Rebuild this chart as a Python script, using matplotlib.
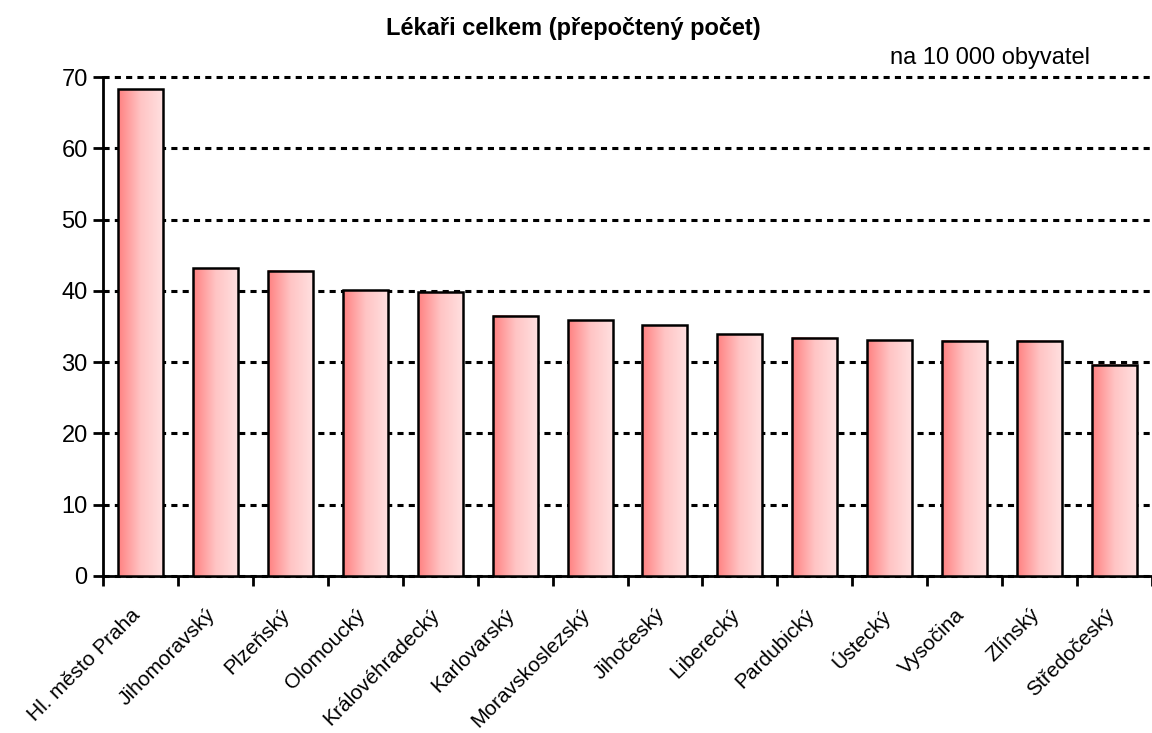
import matplotlib.pyplot as plt
import matplotlib.transforms as mtransforms
import numpy as np
from matplotlib.colors import LinearSegmentedColormap

plt.rcParams['font.family'] = ['Liberation Sans Narrow', 'Liberation Sans', 'DejaVu Sans']

kraje = ["Hl. město Praha", "Jihomoravský", "Plzeňský", "Olomoucký", "Královéhradecký",
         "Karlovarský", "Moravskoslezský", "Jihočeský", "Liberecký", "Pardubický",
         "Ústecký", "Vysočina", "Zlínský", "Středočeský"]
lekari = [68.3, 43.2, 42.8, 40.1, 39.8, 36.5, 35.9, 35.2, 33.9, 33.4, 33.1, 33.0, 33.0, 29.6]

fig = plt.figure(figsize=(11.52, 7.33), dpi=100)
ax = fig.add_axes([103/1152, 1-576/733, 1-103/1152, (576-77)/733])

cmap = LinearSegmentedColormap.from_list("grad", ["#ff8080", "#ffc4c4", "#ffe0e0"])
grad = np.linspace(0, 1, 256).reshape(1, -1)
w = 0.6
x = np.arange(len(kraje))
bars = ax.bar(x, lekari, width=w, facecolor="none", edgecolor="black", linewidth=1.8, zorder=4)
for b in bars:
    x0, y0 = b.get_x(), b.get_y()
    ax.imshow(grad, cmap=cmap, aspect="auto", extent=[x0, x0 + b.get_width(), y0, y0 + b.get_height()],
              zorder=3, interpolation="bicubic")

ax.set_xlim(-0.5, -0.5 + (1152-103)/75.8)
ax.set_ylim(0, 70)
ax.set_yticks(range(0, 71, 10))
ax.yaxis.grid(True, color="black", linewidth=2.2, linestyle=(0, (2.0, 1.7)), zorder=1)
ax.set_axisbelow(True)
for gl in ax.get_ygridlines():
    gl.set_clip_on(False)

ax.set_xticks(x)
ax.set_xticklabels(kraje, rotation=45, ha="right", rotation_mode="anchor", fontsize=15)
ax.tick_params(axis="x", length=0, pad=21)
shift = mtransforms.ScaledTranslation(-10/100, 0, fig.dpi_scale_trans)
for lbl in ax.get_xticklabels():
    lbl.set_transform(lbl.get_transform() + shift)
ax.set_xticks(np.arange(-0.5, len(kraje), 1), minor=True)
ax.tick_params(axis="x", which="minor", direction="out", length=7, width=2)
ax.tick_params(axis="y", direction="out", length=7, width=2, labelsize=17, pad=4)

ax.spines["right"].set_visible(False)
ax.spines["top"].set_visible(False)
ax.spines["left"].set_linewidth(2)
ax.spines["bottom"].set_linewidth(2)

fig.text(573/1152, 1-29/733, "Lékaři celkem (přepočtený počet)", ha="center", va="center",
         fontsize=17, fontweight="bold")
fig.text(1090/1152, 1-58/733, "na 10 000 obyvatel", ha="right", va="center", fontsize=17)

fig.savefig("out.png", dpi=100)
